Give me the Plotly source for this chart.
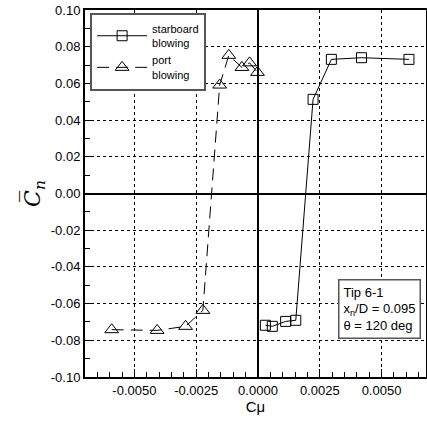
import plotly.graph_objects as go

stb_x = [0.00030, 0.00058, 0.00112, 0.00153, 0.00223, 0.00297, 0.00419, 0.00611]
stb_y = [-0.0718, -0.0724, -0.0697, -0.0691, 0.0513, 0.0731, 0.0740, 0.0731]
port_x = [-0.00592, -0.00408, -0.00293, -0.00223, -0.00155, -0.00118, -0.00065, -0.00034, -0.00002]
port_y = [-0.0742, -0.0746, -0.0724, -0.0637, 0.0591, 0.0753, 0.0687, 0.0712, 0.0660]

x_ticks = [-0.005, -0.0025, 0.0, 0.0025, 0.005]
x_ticklabels = ["-0.0050", "-0.0025", "0.0000", "0.0025", "0.0050"]
y_ticks = [-0.10, -0.08, -0.06, -0.04, -0.02, 0.0, 0.02, 0.04, 0.06, 0.08, 0.10]
y_ticklabels = ["-0.10", "-0.08", "-0.06", "-0.04", "-0.02", "0.00", "0.02", "0.04", "0.06", "0.08", "0.10"]

fig = go.Figure()
fig.add_trace(go.Scatter(
    x=stb_x, y=stb_y, mode="lines+markers", name="starboard<br>blowing",
    line=dict(color="black", width=1),
    marker=dict(symbol="square-open", size=10, color="black", line=dict(width=1)),
))
fig.add_trace(go.Scatter(
    x=port_x, y=port_y, mode="lines+markers", name="port<br>blowing",
    line=dict(color="black", width=1, dash="12px,7px"),
    marker=dict(symbol="triangle-up-open", size=12, color="black", line=dict(width=1)),
))

axis_font = dict(family="Liberation Sans, Arial, sans-serif", size=13, color="black")

fig.update_xaxes(
    range=[-0.007, 0.0068], tickvals=x_ticks, ticktext=x_ticklabels,
    ticks="inside", ticklen=8, tickwidth=1, tickcolor="black",
    minor=dict(dtick=0.0005, ticks="inside", ticklen=5, tickcolor="black", showgrid=False),
    showgrid=True, gridcolor="black", griddash="dot", gridwidth=1,
    zeroline=True, zerolinecolor="black", zerolinewidth=2,
    showline=True, linecolor="black", linewidth=2, mirror=True,
    tickfont=axis_font, automargin=False,
    title=dict(text="Cμ", font=dict(family="Liberation Sans, Arial, sans-serif", size=15, color="black"), standoff=4),
)
fig.update_yaxes(
    range=[-0.10, 0.10], tickvals=y_ticks, ticktext=y_ticklabels,
    ticks="inside", ticklen=8, tickwidth=1, tickcolor="black",
    minor=dict(dtick=0.01, ticks="inside", ticklen=5, tickcolor="black", showgrid=False),
    showgrid=True, gridcolor="black", griddash="dot", gridwidth=1,
    zeroline=True, zerolinecolor="black", zerolinewidth=2,
    showline=True, linecolor="black", linewidth=2, mirror=True,
    tickfont=axis_font, automargin=False,
    title=dict(text="<i>C\u0305<sub>n</sub></i>", font=dict(family="DejaVu Serif, serif", size=22, color="black"), standoff=4),
)

fig.add_annotation(
    xref="paper", yref="paper", x=0.985, y=0.104, xanchor="right", yanchor="bottom",
    text="Tip 6-1<br>x<sub>n</sub>/D = 0.095<br>θ = 120 deg", align="left", showarrow=False,
    font=dict(family="Liberation Sans, Arial, sans-serif", size=13, color="black"),
    bordercolor="#555555", borderwidth=1.5, borderpad=4, bgcolor="white",
)

fig.update_layout(
    width=427, height=421,
    margin=dict(l=85, r=1, t=10, b=44),
    plot_bgcolor="white", paper_bgcolor="white",
    showlegend=True,
    legend=dict(
        x=0.015, y=0.992, xanchor="left", yanchor="top",
        bgcolor="white", bordercolor="#555555", borderwidth=2,
        font=dict(family="Liberation Sans, Arial, sans-serif", size=11, color="black"),
        tracegroupgap=0, itemwidth=50,
    ),
)

fig.write_html(
    "out.html",
    config={"displayModeBar": False},
    post_script="document.body.style.margin='0';document.body.style.overflow='hidden';",
)
